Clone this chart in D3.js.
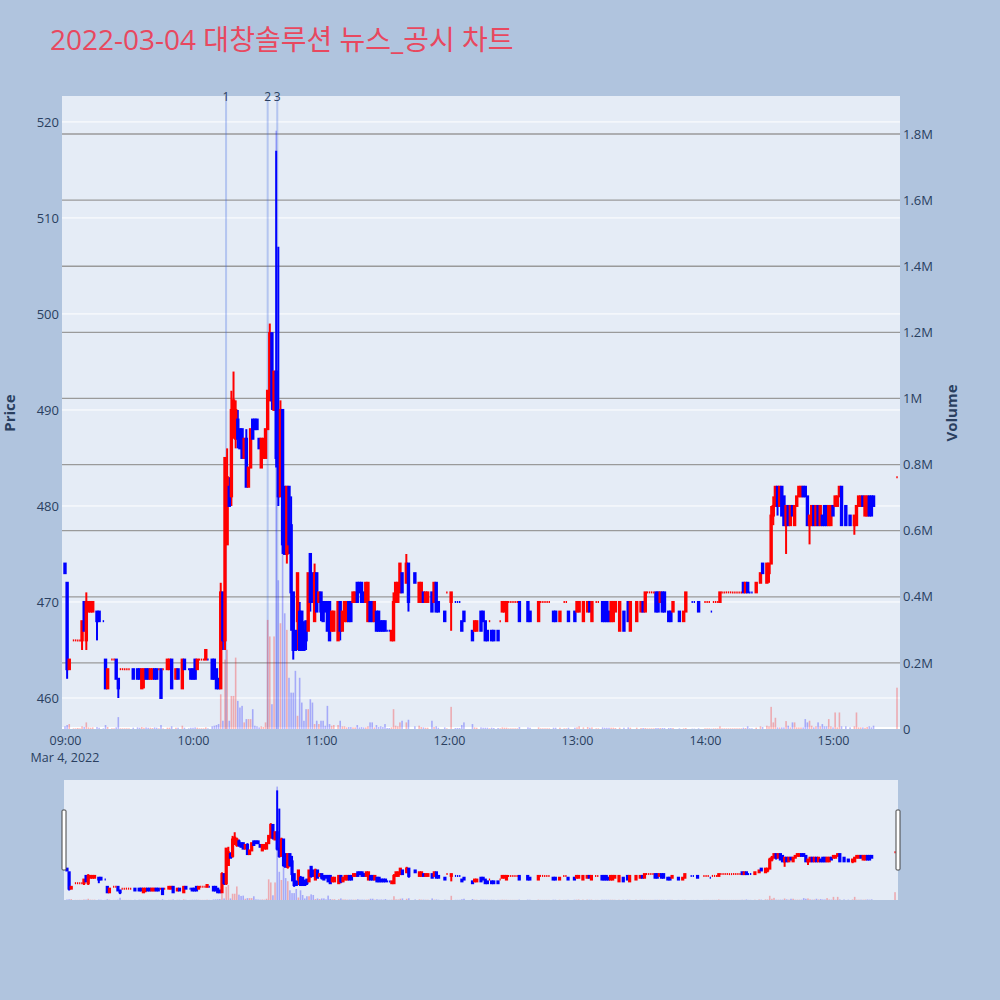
<!DOCTYPE html>
<html><head><meta charset="utf-8">
<script src="https://cdn.jsdelivr.net/npm/d3@7"></script>
<style>
body{margin:0;background:#B0C4DE;}
svg{display:block;}
text{font-family:"Open Sans","Noto Sans CJK KR",sans-serif;}
</style></head>
<body><svg id="c" width="1000" height="1000"></svg>
<script>
// ---------- DATA (minute candles: time, open, high, low, close, volume in thousands) ----------
const h09 = [
["09:00",474,474,473,473,8],["09:01",472,472,462,463,12],["09:02",463,464,463,464,15],
["09:04",466,466,466,466,2],["09:05",466,466,466,466,2],["09:06",466,466,466,466,3],["09:07",466,466,466,466,2],
["09:08",466,468,465,468,8],["09:09",470,470,467,467,6],["09:10",466,471,465,470,20],["09:11",469,470,469,470,5],
["09:12",469,470,469,470,4],["09:13",469,470,469,470,5],["09:15",469,469,466,468,6],["09:16",469,469,468,468,4],
["09:18",468,468,468,468,2],["09:19",464,464,461,461,12],["09:20",461,463,461,463,6],["09:22",464,464,464,464,2],
["09:23",464,464,464,464,2],["09:24",464,464,462,462,5],["09:25",462,462,460,461,36],["09:26",463,463,463,463,2],
["09:27",463,463,463,463,2],["09:28",463,463,463,463,2],["09:29",463,463,463,463,2],["09:30",463,463,463,463,2],
["09:32",463,463,462,462,4],["09:34",463,463,462,462,5],["09:35",463,463,462,462,4],["09:36",461,463,461,463,6],
["09:37",462,463,461,463,4],["09:38",463,463,462,462,5],["09:39",463,463,462,462,4],["09:40",462,463,462,463,4],
["09:41",462,463,462,463,3],["09:42",463,463,462,462,5],["09:43",463,463,462,462,4],["09:44",463,463,463,463,2],
["09:45",463,463,460,460,12],["09:46",463,463,463,463,2],["09:48",463,464,463,464,4],["09:49",463,464,463,464,4],
["09:50",464,464,461,461,8],["09:52",462,463,462,463,4],["09:53",463,463,462,462,4],["09:55",461,464,461,464,10],
["09:56",464,464,463,463,4],["09:58",463,463,463,463,2],["09:59",463,463,462,462,4]
];
const h10 = [
["10:00",463,463,462,462,4],["10:01",464,464,462,462,5],["10:02",463,464,463,464,4],["10:03",464,464,464,464,2],
["10:04",464,464,464,464,2],["10:05",464,464,464,464,2],["10:06",464,465,464,465,5],["10:07",464,464,464,464,2],
["10:09",464,464,462,462,8],["10:10",464,464,462,462,10],["10:11",463,463,461,461,12],["10:12",462,462,461,461,15],
["10:13",461,472,461,471,105],["10:14",471,471,465,466,25],["10:15",466,485,465,485,210],["10:16",476,486,476,483,240],
["10:17",482,483,480,480,25],["10:18",481,492,480,490,100],["10:19",488,494,487,491,100],["10:20",487,491,486,490,216],
["10:21",489,490,486,487,85],["10:22",488,488,486,486,65],["10:23",488,488,485,485,70],["10:24",485,487,485,487,20],
["10:25",487,488,482,482,30],["10:26",482,484,482,484,30],["10:27",484,488,484,488,30],["10:28",489,489,487,487,60],
["10:29",489,489,488,488,10],["10:30",489,489,488,488,8],["10:31",487,487,486,486,5],["10:32",484,487,484,487,8],
["10:33",485,487,485,487,6],["10:34",485,488,485,488,20],["10:35",488,492,488,492,330],["10:36",491,499,491,498,280],
["10:37",498,498,490,491,75],["10:38",490,494,490,494,280],["10:39",494,517,484,485,1810],["10:40",485,507,480,481,450],
["10:41",481,491,481,490,320],["10:42",490,490,475,476,690],["10:43",482,482,475,475,350],["10:44",475,482,474,482,300],
["10:45",482,482,475,476,155],["10:46",478,481,467,471,110],["10:47",471,471,464,465,110],["10:48",467,467,465,465,176],
["10:49",468,473,465,473,40],["10:50",469,470,465,465,155],["10:51",469,469,465,465,80],["10:52",467,468,465,465,25],
["10:53",468,468,465,466,60],["10:54",467,473,467,473,60],["10:55",475,475,469,470,90],["10:56",473,473,470,470,80],
["10:57",468,474,468,473,15],["10:58",473,473,469,469,25],["10:59",470,471,470,471,15]
];
const h11 = [
["11:00",471,471,468,469,25],["11:01",470,470,468,468,25],["11:02",470,470,469,469,10],["11:03",470,470,467,467,70],
["11:04",470,470,466,466,15],["11:05",467,469,467,469,10],["11:06",467,469,467,469,12],["11:08",466,470,466,470,12],
["11:09",470,470,466,467,25],["11:10",467,469,467,469,8],["11:11",468,470,468,470,8],["11:12",468,470,468,470,5],
["11:13",470,470,468,468,6],["11:14",470,470,468,468,6],["11:15",470,471,470,471,5],["11:16",470,471,470,471,5],
["11:17",472,472,470,470,12],["11:18",472,472,471,471,5],["11:19",472,472,470,470,6],["11:20",471,471,470,470,5],
["11:21",470,472,470,472,5],["11:22",468,472,468,472,8],["11:23",470,470,468,468,20],["11:24",470,470,468,468,20],
["11:25",468,470,468,470,5],["11:26",469,469,467,467,12],["11:27",469,469,467,467,6],["11:28",468,468,467,467,8],
["11:29",468,468,467,467,6],["11:30",468,468,467,467,15],["11:31",467,467,467,467,3],["11:32",467,467,467,467,3],
["11:33",466,467,466,467,5],["11:34",466,471,466,470,60],["11:35",470,472,470,472,10],["11:36",470,472,470,472,8],
["11:37",471,474,471,474,20],["11:38",473,473,471,471,25],["11:40",472,475,472,474,20],["11:41",474,474,469,470,28],
["11:44",473,473,472,472,8],["11:46",470,472,470,472,10],["11:47",470,472,470,472,6],["11:48",471,471,470,470,5],
["11:49",470,471,470,471,4],["11:50",470,471,470,471,4],["11:52",471,471,469,469,25],["11:53",470,472,470,472,6],
["11:54",472,472,469,469,8],["11:55",470,470,469,469,4],["11:58",469,469,468,468,5],["11:59",471,471,471,471,2]
];
const h12 = [
["12:01",470,471,467,471,67],["12:03",470,470,470,470,3],["12:04",470,470,470,470,3],["12:05",470,470,470,470,3],
["12:06",468,468,467,467,12],["12:07",469,469,468,468,20],["12:11",467,467,466,466,15],["12:12",467,468,467,468,5],
["12:13",467,468,467,468,4],["12:15",469,469,467,467,5],["12:16",469,469,468,468,4],["12:17",468,468,466,466,4],
["12:18",467,467,466,466,4],["12:19",468,468,468,468,2],["12:20",467,467,466,466,4],["12:21",467,467,466,466,3],
["12:23",467,467,466,466,3],["12:24",468,468,468,468,2],["12:25",469,470,469,470,5],["12:26",469,470,469,470,4],
["12:27",468,470,468,470,4],["12:28",470,470,470,470,2],["12:29",470,470,470,470,2],["12:30",470,470,470,470,2],
["12:31",470,470,470,470,2],["12:32",470,470,470,470,2],["12:33",470,470,468,468,6],["12:37",470,470,468,468,5],
["12:38",469,469,468,468,4],["12:42",468,470,468,470,5],["12:43",470,470,470,470,2],["12:44",470,470,470,470,2],
["12:45",470,470,470,470,2],["12:46",470,470,470,470,2],["12:47",470,470,470,470,2],["12:49",469,469,468,468,4],
["12:50",469,469,468,468,4],["12:52",468,469,468,469,4],["12:54",470,470,470,470,2],["12:55",470,470,470,470,2],
["12:56",469,469,468,468,4],["12:59",469,469,468,468,4]
];
const h13 = [
["13:00",469,470,469,470,5],["13:01",469,470,469,470,8],["13:03",468,470,468,470,5],["13:05",469,470,469,470,6],
["13:06",470,470,469,469,4],["13:07",468,470,468,470,5],["13:09",470,470,470,470,2],["13:10",470,470,470,470,2],
["13:12",470,470,468,468,5],["13:13",470,470,468,468,4],
["13:14",470,470,468,468,4],["13:15",469,469,468,468,4],["13:16",468,470,468,470,4],["13:17",468,470,468,470,4],
["13:18",469,470,469,470,3],["13:20",467,470,467,470,4],["13:22",469,469,467,467,4],["13:24",470,470,468,468,5],
["13:25",467,470,467,470,4],["13:28",468,470,468,470,4],["13:30",469,470,469,470,3],["13:31",470,470,469,469,3],
["13:32",469,471,469,471,3],["13:33",471,471,471,471,2],["13:34",471,471,471,471,2],["13:35",471,471,471,471,2],
["13:36",471,471,471,471,2],
["13:37",471,471,469,469,3],["13:38",471,471,469,469,3],["13:39",470,471,470,471,3],["13:40",471,471,469,469,3],
["13:41",471,471,469,469,3],["13:43",469,469,468,468,3],["13:44",469,469,468,468,3],["13:45",469,470,469,470,3],
["13:48",469,469,468,468,2],["13:50",468,469,468,469,2],["13:51",469,471,469,471,3],["13:54",470,470,470,470,1],
["13:55",470,470,470,470,1],["13:57",470,470,469,469,2]
];
const h14 = [
["14:00",470,470,470,470,2],["14:01",470,470,470,470,2],["14:02",470,470,470,470,2],["14:03",469,469,469,469,1],
["14:04",470,470,470,470,2],["14:05",470,470,470,470,2],["14:06",470,470,470,470,2],["14:07",470,471,470,471,8],
["14:08",471,471,471,471,2],["14:09",471,471,471,471,2],["14:10",471,471,471,471,2],["14:11",471,471,471,471,2],
["14:12",471,471,471,471,2],["14:13",471,471,471,471,2],["14:14",471,471,471,471,2],["14:15",471,471,471,471,2],
["14:16",471,471,471,471,2],["14:17",471,471,471,471,2],["14:18",472,472,471,471,4],
["14:19",471,472,471,472,3],["14:20",472,472,471,471,8],["14:21",471,471,471,471,2],["14:22",471,471,471,471,2],
["14:24",471,472,471,472,4],
["14:26",472,473,472,473,8],["14:27",474,474,473,473,6],["14:29",472,474,472,474,10],["14:30",473,474,472,474,8],
["14:31",474,480,474,479,67],["14:32",479,481,478,480,20],["14:33",480,482,480,482,34],["14:34",482,482,479,480,5],
["14:35",480,482,480,482,5],["14:36",482,482,479,479,5],["14:37",481,481,478,478,5],["14:38",478,480,475,480,24],
["14:39",480,480,478,478,10],["14:40",478,480,478,480,5],["14:41",480,480,479,479,20],["14:42",478,480,478,480,20],
["14:43",480,481,480,481,5],["14:44",481,482,481,482,5],["14:45",481,482,481,482,5],["14:46",482,482,481,481,5],
["14:47",482,482,481,481,30],["14:48",481,481,478,478,20],["14:49",478,479,476,479,25],["14:50",478,480,478,480,10],
["14:51",480,480,478,478,5],["14:52",478,480,478,480,8],["14:53",480,480,478,478,20],["14:54",478,480,478,480,8],
["14:55",479,479,478,478,15],["14:56",480,480,478,478,8],["14:57",480,480,478,478,8],["14:58",478,480,478,480,30],
["14:59",478,480,478,480,8]
];
const h15 = [
["15:00",480,480,479,479,5],["15:01",480,481,480,481,50],["15:02",480,481,480,481,5],["15:03",481,482,481,482,50],
["15:04",482,482,478,478,8],["15:06",480,480,478,478,8],["15:08",479,479,478,478,5],["15:10",478,479,477,479,8],
["15:11",478,480,478,480,50],["15:12",480,481,480,481,5],["15:13",480,481,480,481,5],["15:14",481,481,480,480,5],
["15:15",479,481,479,481,4],["15:16",479,481,479,481,6],["15:17",481,481,479,479,8],["15:18",481,481,479,479,5],
["15:19",481,481,480,480,10],["15:30",483,483,483,483,125]
];
const newsTimes = ["10:15:30","10:35:00","10:39:30"];
const newsLabels = ["1","2","3"];
const priceTicks = [460,470,480,490,500,510,520];
const volumeTicks = [0,200000,400000,600000,800000,1000000,1200000,1400000,1600000,1800000];
const volumeTickLabels = ["0","0.2M","0.4M","0.6M","0.8M","1M","1.2M","1.4M","1.6M","1.8M"];
const timeTicks = ["09:00","10:00","11:00","12:00","13:00","14:00","15:00"];
const dateLabel = "Mar 4, 2022";
const xRange = ["08:58:36","15:31:24"];
const priceRange = [456.77, 522.7];
const volumeRange = [0, 1915000];
const titleText = "2022-03-04 대창솔루션 뉴스_공시 차트";

// ---------- BUILD ----------
const parseT = d3.timeParse("%Y-%m-%d %H:%M:%S");
const toDate = s => parseT("2022-03-04 " + (s.length === 5 ? s + ":00" : s));
const rows = [].concat(h09, h10, h11, h12, h13, h14, h15);
const candles = rows.map(r => ({t: toDate(r[0]), o: r[1], h: r[2], l: r[3], c: r[4], v: r[5] * 1000}));
let prevC = null, prevUp = true;
candles.forEach(d => {
  let up;
  if (d.c > d.o) up = true;
  else if (d.c < d.o) up = false;
  else if (prevC === null) up = true;
  else if (d.c > prevC) up = true;
  else if (d.c < prevC) up = false;
  else up = prevUp;
  d.up = up; prevUp = up; prevC = d.c;
});
const UP = "#ff0000", DN = "#0000ff";
const FONT = "'Open Sans','Noto Sans CJK KR',sans-serif";

const L = 62, R = 900, T = 96, B = 729;
const svg = d3.select("#c");
svg.append("rect").attr("width", 1000).attr("height", 1000).attr("fill", "#B0C4DE");

const x = d3.scaleTime().domain(xRange.map(toDate)).range([L, R]);
const yP = d3.scaleLinear().domain(priceRange).range([B, T]);
const yV = d3.scaleLinear().domain(volumeRange).range([B, T]);

// title
svg.append("text").attr("x", 50).attr("y", 50).attr("font-size", 28).attr("fill", "#E8485F").text(titleText);

// plot bg
svg.append("rect").attr("x", L).attr("y", T).attr("width", R - L).attr("height", B - T).attr("fill", "#E5ECF6");

const defs = svg.append("defs");
defs.append("clipPath").attr("id", "clipMain").append("rect").attr("x", L).attr("y", T).attr("width", R - L).attr("height", B - T);

// grids
const grid = svg.append("g");
grid.selectAll(".pg").data(priceTicks).join("line")
  .attr("x1", L).attr("x2", R).attr("y1", d => yP(d)).attr("y2", d => yP(d))
  .attr("stroke", "#ffffff").attr("stroke-width", 1);
grid.selectAll(".vg").data(volumeTicks.filter(d => d > 0)).join("line")
  .attr("x1", L).attr("x2", R).attr("y1", d => yV(d)).attr("y2", d => yV(d))
  .attr("stroke", "#9a9a9a").attr("stroke-width", 1.3);
grid.append("line").attr("x1", L).attr("x2", R).attr("y1", yV(0) - 1).attr("y2", yV(0) - 1)
  .attr("stroke", "#ffffff").attr("stroke-width", 2);

const main = svg.append("g").attr("clip-path", "url(#clipMain)");

// news lines
main.selectAll(".news").data(newsTimes).join("line")
  .attr("x1", d => x(toDate(d))).attr("x2", d => x(toDate(d)))
  .attr("y1", T).attr("y2", B)
  .attr("stroke", "rgba(65,105,225,0.3)").attr("stroke-width", 2);

function drawCandles(g, xs, ys, bodyW) {
  const col = d => d.up ? UP : DN;
  g.selectAll(".wick").data(candles.filter(d => d.h !== d.l)).join("line")
    .attr("x1", d => xs(d.t)).attr("x2", d => xs(d.t))
    .attr("y1", d => ys(d.h)).attr("y2", d => ys(d.l))
    .attr("stroke", col).attr("stroke-width", 2);
  g.selectAll(".body").data(candles.filter(d => d.o !== d.c)).join("rect")
    .attr("x", d => xs(d.t) - bodyW / 2).attr("width", bodyW)
    .attr("y", d => ys(Math.max(d.o, d.c)))
    .attr("height", d => Math.abs(ys(d.o) - ys(d.c)))
    .attr("fill", col).attr("stroke", col).attr("stroke-width", 2);
  g.selectAll(".flat").data(candles.filter(d => d.o === d.c)).join("line")
    .attr("x1", d => xs(d.t) - bodyW / 2).attr("x2", d => xs(d.t) + bodyW / 2)
    .attr("y1", d => ys(d.c)).attr("y2", d => ys(d.c))
    .attr("stroke", col).attr("stroke-width", 2).attr("stroke-linecap", "butt");
}
function drawVolume(g, xs, ys, w) {
  g.selectAll(".vol").data(candles).join("rect")
    .attr("x", d => xs(d.t) - w / 2).attr("width", w)
    .attr("y", d => ys(d.v)).attr("height", d => ys(0) - ys(d.v))
    .attr("fill", d => d.up ? UP : DN).attr("fill-opacity", 0.28);
}
drawCandles(main.append("g"), x, yP, 1.4);
drawVolume(main.append("g"), x, yV, 1.6);

// news labels
svg.selectAll(".nl").data(newsTimes).join("text")
  .attr("x", (d, i) => x(toDate(d))).attr("y", 101)
  .attr("text-anchor", "middle").attr("font-size", 12).attr("fill", "#2a3f5f")
  .text((d, i) => newsLabels[i]);

// axes
const fmt = d3.timeFormat("%H:%M");
const xAxis = svg.append("g").attr("transform", `translate(0,${B})`)
  .call(d3.axisBottom(x).tickValues(timeTicks.map(toDate)).tickFormat(fmt).tickSize(0).tickPadding(7));
svg.append("text").attr("x", x(toDate(timeTicks[0]))).attr("y", 762).attr("text-anchor", "middle")
  .attr("font-size", 12.5).attr("fill", "#2a3f5f").attr("font-family", FONT).text(dateLabel);
const yAxisL = svg.append("g").attr("transform", `translate(${L},0)`)
  .call(d3.axisLeft(yP).tickValues(priceTicks).tickSize(0).tickPadding(3));
const yAxisR = svg.append("g").attr("transform", `translate(${R},0)`)
  .call(d3.axisRight(yV).tickValues(volumeTicks).tickFormat((d, i) => volumeTickLabels[i]).tickSize(0).tickPadding(3));
[yAxisL, yAxisR].forEach(a => {
  a.select(".domain").remove();
  a.selectAll("text").attr("font-size", 13).attr("fill", "#2a3f5f").attr("font-family", FONT);
});
xAxis.select(".domain").remove();
xAxis.selectAll("text").attr("font-size", 12.5).attr("fill", "#2a3f5f").attr("font-family", FONT);

svg.append("text").attr("transform", "translate(15,413) rotate(-90)").attr("text-anchor", "middle")
  .attr("font-size", 15).attr("font-weight", "bold").attr("fill", "#2a3f5f").text("Price");
svg.append("text").attr("transform", "translate(957,413) rotate(-90)").attr("text-anchor", "middle")
  .attr("font-size", 15).attr("font-weight", "bold").attr("fill", "#2a3f5f").text("Volume");

// range slider
const SL = 64, SR = 898, ST = 780, SB = 900;
svg.append("rect").attr("x", SL).attr("y", ST).attr("width", SR - SL).attr("height", SB - ST).attr("fill", "#E5ECF6");
defs.append("clipPath").attr("id", "clipSl").append("rect").attr("x", SL).attr("y", ST).attr("width", SR - SL).attr("height", SB - ST);
const xs = x.copy().range([SL, SR]);
const ysP = d3.scaleLinear().domain(priceRange).range([SB, ST]);
const ysV = d3.scaleLinear().domain(volumeRange).range([SB, ST]);
const sl = svg.append("g").attr("clip-path", "url(#clipSl)");
drawCandles(sl.append("g"), xs, ysP, 1.2);
drawVolume(sl.append("g"), xs, ysV, 1.6);
[SL, SR].forEach(px => {
  svg.append("rect").attr("x", px - 2).attr("y", ST + 30).attr("width", 4).attr("height", 60)
    .attr("rx", 1).attr("fill", "#ffffff").attr("stroke", "#444").attr("stroke-width", 1);
});
</script></body></html>
